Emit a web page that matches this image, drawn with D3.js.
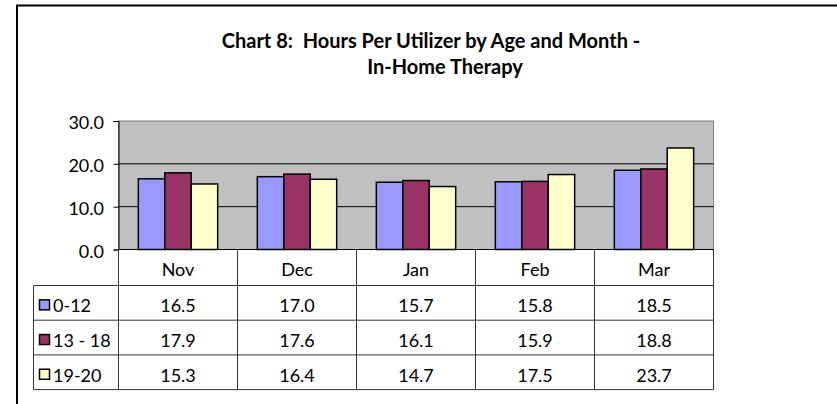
<!DOCTYPE html>
<html>
<head>
<meta charset="utf-8">
<script src="https://cdn.jsdelivr.net/npm/d3@7"></script>
<style>
  body { margin: 0; background: #fff; }
  svg { display: block; font-family: Lato, "Open Sans", sans-serif; }
  text { white-space: pre; }
</style>
</head>
<body>
<svg id="chart" width="837" height="404"></svg>
<script>
const months = ["Nov", "Dec", "Jan", "Feb", "Mar"];
const seriesNames = ["0-12", "13 - 18", "19-20"];
const ages0to12 = [16.5, 17.0, 15.7, 15.8, 18.5];
const ages13to18 = [17.9, 17.6, 16.1, 15.9, 18.8];
const ages19to20 = [15.3, 16.4, 14.7, 17.5, 23.7];
const yTicks = [0, 10, 20, 30];
const colors = ["#9999ff", "#993366", "#ffffcc"];

const seriesValues = [ages0to12, ages13to18, ages19to20];

const plot = { left: 118.5, right: 713.5, top: 121, bottom: 249.5 };
const table = { left: 33.5, headerBottom: 285.5, rowHeight: 34.7 };
const fontSize = 18;

const svg = d3.select("#chart");

// frame (top and left edges only)
svg.append("path")
  .attr("d", "M17,404V5.5H837")
  .attr("fill", "none")
  .attr("stroke", "#000")
  .attr("stroke-width", 2);

// title
svg.append("text")
  .attr("x", 431).attr("y", 48)
  .attr("text-anchor", "middle")
  .attr("font-weight", "bold")
  .attr("font-size", 20)
  .text("Chart 8:  Hours Per Utilizer by Age and Month -");
svg.append("text")
  .attr("x", 445).attr("y", 74)
  .attr("text-anchor", "middle")
  .attr("font-weight", "bold")
  .attr("font-size", 20)
  .text("In-Home Therapy");

const y = d3.scaleLinear().domain([0, 30]).range([plot.bottom, plot.top]);
const x = d3.scaleBand().domain(months).range([plot.left, plot.right]);
// 150% gap width like the spreadsheet chart
const xInner = d3.scaleBand().domain(d3.range(seriesNames.length))
  .range([0, x.bandwidth()]).paddingOuter(0.75).paddingInner(0);

// plot background
svg.append("rect")
  .attr("x", plot.left).attr("y", plot.top)
  .attr("width", plot.right - plot.left).attr("height", plot.bottom - plot.top)
  .attr("fill", "#c0c0c0")
  .attr("stroke", "#808080");

// gridlines
svg.append("g")
  .selectAll("line")
  .data(yTicks.filter(d => d > 0 && d < 30))
  .join("line")
  .attr("x1", plot.left).attr("x2", plot.right)
  .attr("y1", d => y(d)).attr("y2", d => y(d))
  .attr("stroke", "#000").attr("stroke-width", 1);

// y axis
svg.append("g")
  .attr("transform", `translate(${plot.left},0)`)
  .call(d3.axisLeft(y).tickValues(yTicks).tickFormat(d3.format(".1f")).tickSize(5).tickPadding(9.5))
  .call(g => g.selectAll("text").attr("font-size", fontSize).attr("fill", "#000").attr("font-family", "Lato, sans-serif").attr("dy", "0.42em"))
  .call(g => g.selectAll("line, .domain").attr("stroke", "#000"));

// bars
svg.append("g")
  .selectAll("g")
  .data(seriesValues)
  .join("g")
  .attr("fill", (d, i) => colors[i])
  .each(function(vals, si) {
    d3.select(this).selectAll("rect")
      .data(vals)
      .join("rect")
      .attr("x", (d, i) => x(months[i]) + xInner(si))
      .attr("y", d => y(d))
      .attr("width", xInner.bandwidth())
      .attr("height", d => y(0) - y(d))
      .attr("stroke", "#000")
      .attr("stroke-width", 1.5);
  });

// x axis baseline
svg.append("line")
  .attr("x1", plot.left).attr("x2", plot.right)
  .attr("y1", plot.bottom).attr("y2", plot.bottom)
  .attr("stroke", "#000");

// data table
const rows = seriesNames.length;
const tableBottom = table.headerBottom + rows * table.rowHeight;
const grid = svg.append("g").attr("stroke", "#333").attr("stroke-width", 1).attr("fill", "none");

// column separators (from plot bottom down)
grid.selectAll("line.col")
  .data(months.map(m => x(m)).concat([plot.right]))
  .join("line")
  .attr("class", "col")
  .attr("x1", d => d).attr("x2", d => d)
  .attr("y1", plot.bottom).attr("y2", tableBottom);

// left edge of legend column
grid.append("line")
  .attr("x1", table.left).attr("x2", table.left)
  .attr("y1", table.headerBottom).attr("y2", tableBottom);

// horizontal rules
grid.selectAll("line.row")
  .data(d3.range(rows + 1))
  .join("line")
  .attr("class", "row")
  .attr("x1", table.left).attr("x2", plot.right)
  .attr("y1", i => table.headerBottom + i * table.rowHeight)
  .attr("y2", i => table.headerBottom + i * table.rowHeight);

// month labels
svg.append("g")
  .selectAll("text")
  .data(months)
  .join("text")
  .attr("x", d => x(d) + x.bandwidth() / 2)
  .attr("y", (plot.bottom + table.headerBottom) / 2 + 8.5)
  .attr("text-anchor", "middle")
  .attr("font-size", fontSize)
  .text(d => d);

// table rows
seriesValues.forEach((vals, si) => {
  const cy = table.headerBottom + (si + 0.5) * table.rowHeight;
  const row = svg.append("g");
  row.append("rect")
    .attr("x", 39.5).attr("y", cy - 3)
    .attr("width", 10).attr("height", 10)
    .attr("fill", colors[si]).attr("stroke", "#000").attr("stroke-width", 1.5);
  row.append("text")
    .attr("x", 53).attr("y", cy + 9.5)
    .attr("font-size", fontSize)
    .text(seriesNames[si]);
  row.selectAll("text.val")
    .data(vals)
    .join("text")
    .attr("class", "val")
    .attr("x", (d, i) => x(months[i]) + x.bandwidth() / 2)
    .attr("y", cy + 9.5)
    .attr("text-anchor", "middle")
    .attr("font-size", fontSize)
    .text(d => d3.format(".1f")(d));
});
</script>
</body>
</html>
